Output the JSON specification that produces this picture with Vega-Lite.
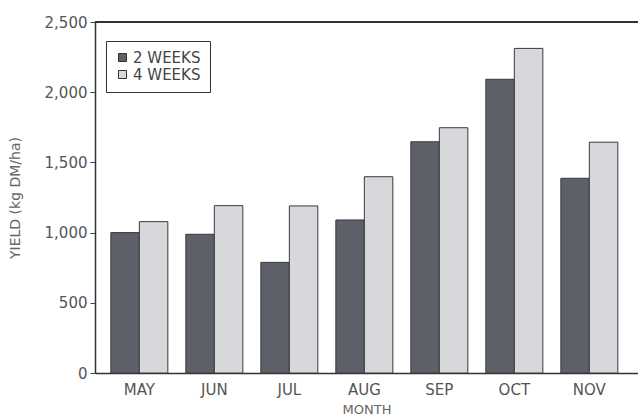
{
  "$schema": "https://vega.github.io/schema/vega-lite/v6.json",
  "width": 543,
  "height": 351,
  "autosize": "none",
  "padding": {"left": 95, "top": 22, "right": 0, "bottom": 47},
  "background": "white",
  "config": {"view": {"stroke": null}, "font": "DejaVu Sans"},
  "data": {
    "values": [
      {"month": "MAY", "interval": "2 WEEKS", "yield": 1000},
      {"month": "MAY", "interval": "4 WEEKS", "yield": 1078},
      {"month": "JUN", "interval": "2 WEEKS", "yield": 988},
      {"month": "JUN", "interval": "4 WEEKS", "yield": 1192},
      {"month": "JUL", "interval": "2 WEEKS", "yield": 788},
      {"month": "JUL", "interval": "4 WEEKS", "yield": 1190},
      {"month": "AUG", "interval": "2 WEEKS", "yield": 1090},
      {"month": "AUG", "interval": "4 WEEKS", "yield": 1398},
      {"month": "SEP", "interval": "2 WEEKS", "yield": 1647},
      {"month": "SEP", "interval": "4 WEEKS", "yield": 1747},
      {"month": "OCT", "interval": "2 WEEKS", "yield": 2092},
      {"month": "OCT", "interval": "4 WEEKS", "yield": 2312},
      {"month": "NOV", "interval": "2 WEEKS", "yield": 1387},
      {"month": "NOV", "interval": "4 WEEKS", "yield": 1644}
    ]
  },
  "layer": [
    {
      "mark": {"type": "bar", "stroke": "#3a3a3a", "strokeWidth": 1},
      "encoding": {
        "x": {
          "field": "month",
          "type": "nominal",
          "sort": ["MAY", "JUN", "JUL", "AUG", "SEP", "OCT", "NOV"],
          "scale": {"paddingInner": 0.24, "paddingOuter": 0.24, "align": 0.44},
          "axis": {
            "title": "MONTH",
            "labelAngle": 0,
            "ticks": false,
            "domainColor": "#333",
            "domainWidth": 1.5,
            "labelFontSize": 15,
            "labelColor": "#555",
            "labelPadding": 9,
            "titleFontSize": 13,
            "titleFontWeight": "normal",
            "titleColor": "#666",
            "titlePadding": 6
          }
        },
        "xOffset": {
          "field": "interval",
          "type": "nominal",
          "sort": ["2 WEEKS", "4 WEEKS"],
          "scale": {"paddingInner": 0, "paddingOuter": 0}
        },
        "y": {
          "field": "yield",
          "type": "quantitative",
          "scale": {"domain": [0, 2500], "nice": false},
          "axis": {
            "title": "YIELD (kg DM/ha)",
            "values": [0, 250, 500, 750, 1000, 1250, 1500, 1750, 2000, 2250, 2500],
            "labelExpr": "datum.value % 500 === 0 ? format(datum.value, ',') : ''",
            "tickSize": 5,
            "tickColor": "#444",
            "encode": {"ticks": {"update": {"x2": {"signal": "datum.value % 500 === 0 ? -5 : 4"}}}},
            "grid": false,
            "domainColor": "#333",
            "domainWidth": 1.5,
            "labelFontSize": 15,
            "labelColor": "#555",
            "labelPadding": 3,
            "titleFontSize": 14,
            "titleFontWeight": "normal",
            "titleColor": "#666",
            "titlePadding": 22
          }
        },
        "color": {
          "field": "interval",
          "type": "nominal",
          "scale": {"domain": ["2 WEEKS", "4 WEEKS"], "range": ["#5d6069", "#d6d8dc"]},
          "legend": {
            "title": null,
            "orient": "none",
            "legendX": 11,
            "legendY": 19,
            "strokeColor": "#333",
            "padding": 9,
            "symbolType": "square",
            "symbolSize": 64,
            "symbolStrokeColor": "#333",
            "symbolStrokeWidth": 1,
            "labelFontSize": 15,
            "labelColor": "#444",
            "labelOffset": 3,
            "rowPadding": 1
          }
        }
      }
    },
    {
      "mark": {"type": "rule", "color": "#333", "strokeWidth": 1.5},
      "encoding": {"y": {"datum": 2500}}
    }
  ]
}
